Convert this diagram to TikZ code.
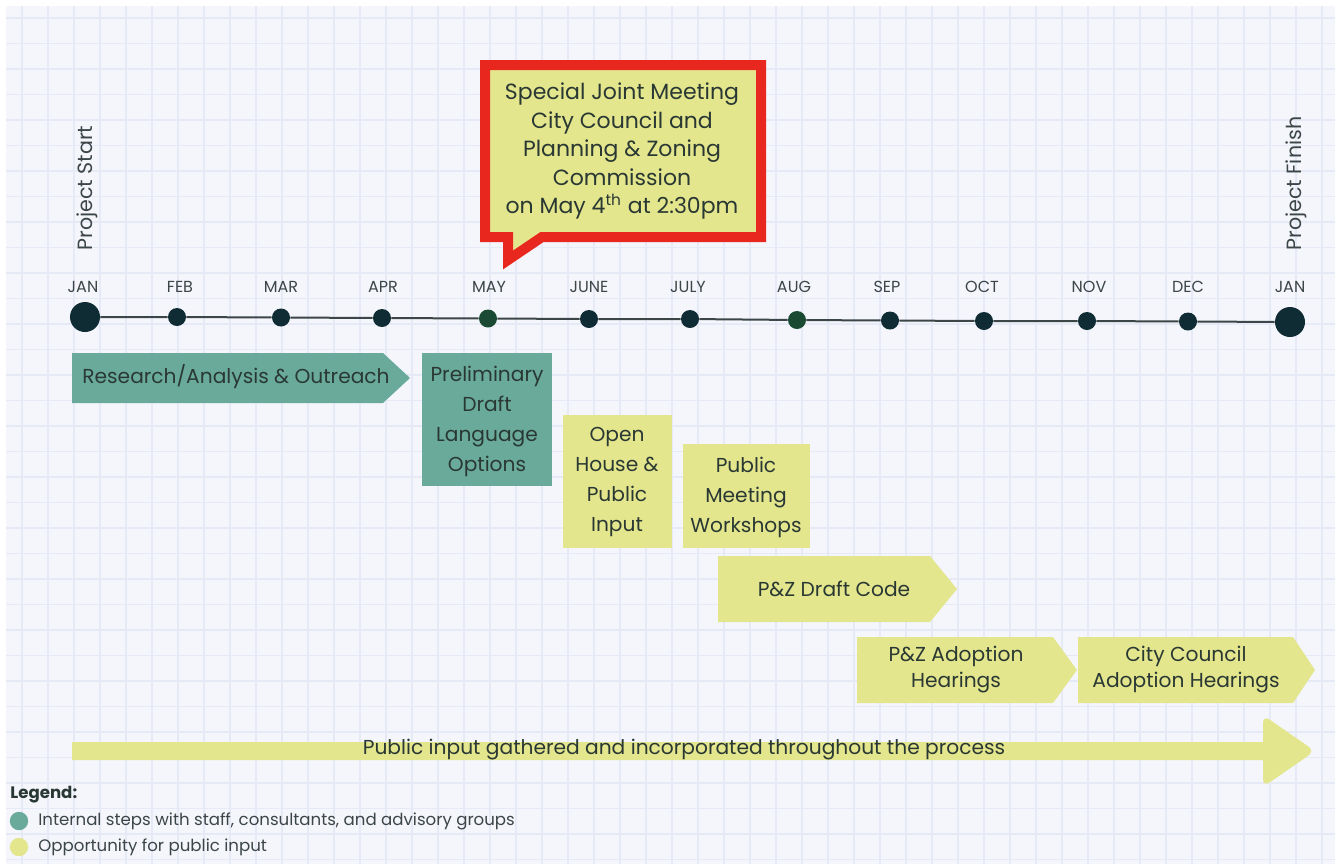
\documentclass[tikz,border=0pt]{standalone}
\usepackage{fontspec}
\setmainfont{Poppins}

\definecolor{tealstep}{HTML}{69AA9B}
\definecolor{yellowstep}{HTML}{E4E68E}
\definecolor{inktext}{HTML}{2A3833}
\definecolor{monthgray}{HTML}{3C4646}
\definecolor{dotdark}{HTML}{0F2B33}
\definecolor{dotgreen}{HTML}{1B4A33}
\definecolor{callred}{HTML}{E8271E}
\definecolor{paper}{HTML}{F4F6FC}
\definecolor{gridblue}{HTML}{E6E9F6}

\begin{document}
\begin{tikzpicture}[x=0.5pt, y=-0.5pt,
    steptext/.style={font=\fontsize{10.1}{15}\selectfont, text=inktext, align=center, inner sep=0pt},
    month/.style={font=\fontsize{8}{9}\selectfont, text=monthgray, inner sep=0pt},
    smalldot/.style={circle, fill=dotdark, inner sep=0pt, minimum size=9pt},
    bigdot/.style={circle, fill=dotdark, inner sep=0pt, minimum size=15pt},
    legendtext/.style={font=\fontsize{8.3}{9}\selectfont, text=monthgray, anchor=west, inner sep=0pt}]

    \useasboundingbox (0, 0) rectangle (1335, 864);
    \fill[white] (0, 0) rectangle (1335, 864);
    \fill[paper] (6, 6) rectangle (1335, 864);

    \foreach \gx in {22, 48, ..., 1335}
        \draw[color=gridblue, line width=0.7pt] (\gx, 6) -- (\gx, 864);
    \foreach \gy in {18, 43.5, ..., 864}
        \draw[color=gridblue, line width=0.7pt] (6, \gy) -- (1335, \gy);

    \node[bigdot] (jan) at (85, 317) {};
    \node[smalldot] (feb) at (177, 317) {};
    \node[smalldot] (mar) at (281, 317.5) {};
    \node[smalldot] (apr) at (382, 318) {};
    \node[smalldot, fill=dotgreen] (may) at (488, 318.5) {};
    \node[smalldot] (jun) at (589, 319) {};
    \node[smalldot] (jul) at (690, 319) {};
    \node[smalldot, fill=dotgreen] (aug) at (797, 320) {};
    \node[smalldot] (sep) at (890, 320.5) {};
    \node[smalldot] (oct) at (984, 321) {};
    \node[smalldot] (nov) at (1087, 321) {};
    \node[smalldot] (dec) at (1188, 321.5) {};
    \node[bigdot] (janend) at (1290, 322) {};

    \draw[color=monthgray, line width=1pt] (jan) -- (feb) -- (mar) -- (apr) -- (may) -- (jun) -- (jul)
        -- (aug) -- (sep) -- (oct) -- (nov) -- (dec) -- (janend);

    \node[month] (janlbl) at (83, 287) {JAN};
    \node[month] (feblbl) at (180, 287) {FEB};
    \node[month] (marlbl) at (281, 287) {MAR};
    \node[month] (aprlbl) at (383, 287) {APR};
    \node[month] (maylbl) at (489, 287) {MAY};
    \node[month] (junlbl) at (589, 287) {JUNE};
    \node[month] (jullbl) at (688, 287) {JULY};
    \node[month] (auglbl) at (794, 287) {AUG};
    \node[month] (seplbl) at (887, 287) {SEP};
    \node[month] (octlbl) at (982, 287) {OCT};
    \node[month] (novlbl) at (1089, 287) {NOV};
    \node[month] (declbl) at (1188, 287) {DEC};
    \node[month] (janendlbl) at (1290, 287) {JAN};

    \node[month, font=\fontsize{10.3}{11}\selectfont, rotate=90, anchor=west] (start) at (87, 251) {Project Start};
    \node[month, font=\fontsize{10.3}{11}\selectfont, rotate=90, anchor=west] (finish) at (1296, 251) {Project Finish};

    \draw[color=callred, fill=yellowstep, line width=5pt, line join=miter]
        (485, 65) -- (761, 65) -- (761, 237) -- (542, 237) -- (508, 260) -- (508, 237) -- (485, 237) -- cycle;
    \node[steptext, font=\fontsize{11}{14.25}\selectfont] (meeting) at (622, 151)
        {Special Joint Meeting\\City Council and\\Planning \& Zoning\\Commission\\on May 4\textsuperscript{th} at 2:30pm};

    \fill[tealstep] (72, 353) -- (383, 353) -- (410, 378) -- (383, 403) -- (72, 403) -- cycle;
    \node[steptext] (research) at (236, 377) {Research/Analysis \& Outreach};

    \fill[tealstep] (422, 353) rectangle (552, 486);
    \node[steptext] (draft) at (487, 421) {Preliminary\\Draft\\Language\\Options};

    \fill[yellowstep] (563, 415) rectangle (672, 548);
    \node[steptext] (openhouse) at (617, 482) {Open\\House \&\\Public\\Input};

    \fill[yellowstep] (683, 444) rectangle (810, 548);
    \node[steptext] (workshops) at (746, 497) {Public\\Meeting\\Workshops};

    \fill[yellowstep] (718, 556) -- (930, 556) -- (957, 589) -- (930, 622) -- (718, 622) -- cycle;
    \node[steptext] (pzdraft) at (834, 589) {P\&Z Draft Code};

    \fill[yellowstep] (857, 637) -- (1053, 637) -- (1077, 670) -- (1053, 703) -- (857, 703) -- cycle;
    \node[steptext, font=\fontsize{10.1}{13}\selectfont] (pzhearing) at (956, 670) {P\&Z Adoption\\Hearings};

    \fill[yellowstep] (1078, 637) -- (1293, 637) -- (1315, 670) -- (1293, 703) -- (1078, 703) -- cycle;
    \node[steptext, font=\fontsize{10.1}{13}\selectfont] (cchearing) at (1186, 670) {City Council\\Adoption Hearings};

    \fill[yellowstep] (72, 742) -- (1263, 742) [rounded corners=4pt] -- (1263, 715) -- (1315, 751)
        -- (1263, 787) [sharp corners] -- (1263, 760) -- (72, 760) -- cycle;
    \node[steptext] (throughout) at (684, 750) {Public input gathered and incorporated throughout the process};

    \node[legendtext, font=\fontsize{8.3}{9}\bfseries\selectfont, text=inktext] (legend) at (10, 795) {Legend:};
    \fill[tealstep] (19, 821) circle (4.6pt);
    \node[legendtext] (internal) at (38, 821) {Internal steps with staff, consultants, and advisory groups};
    \fill[yellowstep] (19, 847) circle (4.6pt);
    \node[legendtext] (public) at (38, 847) {Opportunity for public input};

\end{tikzpicture}
\end{document}
